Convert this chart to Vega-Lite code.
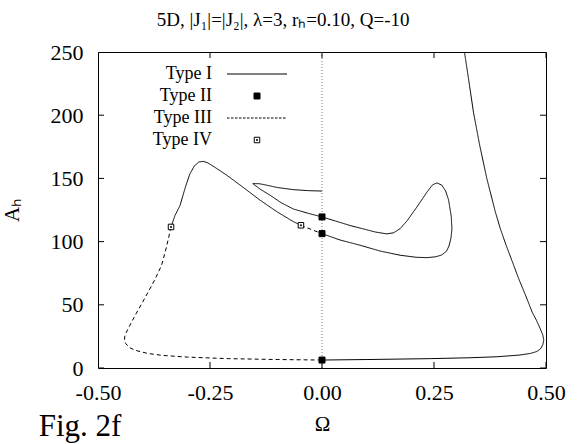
{
"$schema": "https://vega.github.io/schema/vega-lite/v6.json",
"width": 448, "height": 316,
"autosize": {"type": "none"},
"padding": {"left": 98, "top": 52, "right": 31, "bottom": 76},
"background": "white",
"title": {"text": "5D, |J₁|=|J₂|, λ=3, rₕ=0.10, Q=-10", "font": "Liberation Serif", "fontSize": 19, "fontWeight": "normal", "color": "black", "anchor": "middle", "frame": "bounds", "offset": 11},
"config": {
  "view": {"stroke": "black", "strokeWidth": 1},
  "axis": {"labelFont": "Liberation Serif", "titleFont": "Liberation Serif", "labelColor": "black", "titleColor": "black", "domain": false, "grid": false, "ticks": false, "labelFlush": false, "labelOverlap": false, "titleFontWeight": "normal"},
  "legend": {"orient": "none", "legendX": 150, "legendY": 13, "labelFont": "Liberation Serif", "labelFontSize": 18, "labelColor": "black", "labelAlign": "right", "labelOffset": -54, "rowPadding": 4, "symbolStrokeColor": "black", "symbolStrokeWidth": 1, "symbolSize": 100, "padding": 0}
},
"datasets": {
  "curves": [
    {"seg":"A","type":"Type I","i":0,"omega":-0.337,"ah":111.6},
    {"seg":"A","type":"Type I","i":1,"omega":-0.328,"ah":120.8},
    {"seg":"A","type":"Type I","i":2,"omega":-0.317,"ah":128.5},
    {"seg":"A","type":"Type I","i":3,"omega":-0.305,"ah":143},
    {"seg":"A","type":"Type I","i":4,"omega":-0.295,"ah":153.5},
    {"seg":"A","type":"Type I","i":5,"omega":-0.285,"ah":159.8},
    {"seg":"A","type":"Type I","i":6,"omega":-0.275,"ah":163},
    {"seg":"A","type":"Type I","i":7,"omega":-0.265,"ah":163.5},
    {"seg":"A","type":"Type I","i":8,"omega":-0.255,"ah":162.3},
    {"seg":"A","type":"Type I","i":9,"omega":-0.24,"ah":159},
    {"seg":"A","type":"Type I","i":10,"omega":-0.2125,"ah":152.5},
    {"seg":"A","type":"Type I","i":11,"omega":-0.18,"ah":144},
    {"seg":"A","type":"Type I","i":12,"omega":-0.138,"ah":132.7},
    {"seg":"A","type":"Type I","i":13,"omega":-0.1,"ah":123.5},
    {"seg":"A","type":"Type I","i":14,"omega":-0.064,"ah":115.8},
    {"seg":"A","type":"Type I","i":15,"omega":-0.047,"ah":112.9},
    {"seg":"B","type":"Type III","i":0,"omega":-0.047,"ah":112.9},
    {"seg":"B","type":"Type III","i":1,"omega":-0.024,"ah":109.6},
    {"seg":"B","type":"Type III","i":2,"omega":0,"ah":106.3},
    {"seg":"C","type":"Type I","i":0,"omega":0,"ah":106.3},
    {"seg":"C","type":"Type I","i":1,"omega":0.04,"ah":101.3},
    {"seg":"C","type":"Type I","i":2,"omega":0.0852,"ah":97.1},
    {"seg":"C","type":"Type I","i":3,"omega":0.13,"ah":92.5},
    {"seg":"C","type":"Type I","i":4,"omega":0.1746,"ah":89.2},
    {"seg":"C","type":"Type I","i":5,"omega":0.21,"ah":87.6},
    {"seg":"C","type":"Type I","i":6,"omega":0.2342,"ah":87.3},
    {"seg":"C","type":"Type I","i":7,"omega":0.2542,"ah":88},
    {"seg":"C","type":"Type I","i":8,"omega":0.2677,"ah":89.5},
    {"seg":"C","type":"Type I","i":9,"omega":0.278,"ah":92.5},
    {"seg":"C","type":"Type I","i":10,"omega":0.2835,"ah":96.5},
    {"seg":"C","type":"Type I","i":11,"omega":0.288,"ah":103},
    {"seg":"C","type":"Type I","i":12,"omega":0.29,"ah":110.3},
    {"seg":"C","type":"Type I","i":13,"omega":0.2885,"ah":120},
    {"seg":"C","type":"Type I","i":14,"omega":0.2825,"ah":133},
    {"seg":"C","type":"Type I","i":15,"omega":0.276,"ah":140},
    {"seg":"C","type":"Type I","i":16,"omega":0.267,"ah":144.8},
    {"seg":"C","type":"Type I","i":17,"omega":0.2565,"ah":146.4},
    {"seg":"C","type":"Type I","i":18,"omega":0.247,"ah":145},
    {"seg":"C","type":"Type I","i":19,"omega":0.235,"ah":139.5},
    {"seg":"C","type":"Type I","i":20,"omega":0.2119,"ah":127.4},
    {"seg":"C","type":"Type I","i":21,"omega":0.19,"ah":116.5},
    {"seg":"C","type":"Type I","i":22,"omega":0.1746,"ah":110.3},
    {"seg":"C","type":"Type I","i":23,"omega":0.16,"ah":107},
    {"seg":"C","type":"Type I","i":24,"omega":0.145,"ah":106.1},
    {"seg":"C","type":"Type I","i":25,"omega":0.12,"ah":107.5},
    {"seg":"C","type":"Type I","i":26,"omega":0.0629,"ah":112.7},
    {"seg":"C","type":"Type I","i":27,"omega":0.03,"ah":116.3},
    {"seg":"C","type":"Type I","i":28,"omega":0,"ah":119.5},
    {"seg":"C","type":"Type I","i":29,"omega":-0.03,"ah":122.3},
    {"seg":"C","type":"Type I","i":30,"omega":-0.064,"ah":125.8},
    {"seg":"C","type":"Type I","i":31,"omega":-0.09,"ah":130.5},
    {"seg":"C","type":"Type I","i":32,"omega":-0.115,"ah":136.5},
    {"seg":"C","type":"Type I","i":33,"omega":-0.138,"ah":141.5},
    {"seg":"C","type":"Type I","i":34,"omega":-0.1545,"ah":145.9},
    {"seg":"C","type":"Type I","i":35,"omega":-0.14,"ah":145.8},
    {"seg":"C","type":"Type I","i":36,"omega":-0.123,"ah":144.6},
    {"seg":"C","type":"Type I","i":37,"omega":-0.1,"ah":142.8},
    {"seg":"C","type":"Type I","i":38,"omega":-0.064,"ah":141.1},
    {"seg":"C","type":"Type I","i":39,"omega":-0.03,"ah":140.3},
    {"seg":"C","type":"Type I","i":40,"omega":0,"ah":140},
    {"seg":"D","type":"Type III","i":0,"omega":-0.337,"ah":111.6},
    {"seg":"D","type":"Type III","i":1,"omega":-0.347,"ah":96},
    {"seg":"D","type":"Type III","i":2,"omega":-0.358,"ah":81.3},
    {"seg":"D","type":"Type III","i":3,"omega":-0.373,"ah":70},
    {"seg":"D","type":"Type III","i":4,"omega":-0.388,"ah":60.1},
    {"seg":"D","type":"Type III","i":5,"omega":-0.403,"ah":50.5},
    {"seg":"D","type":"Type III","i":6,"omega":-0.417,"ah":41.7},
    {"seg":"D","type":"Type III","i":7,"omega":-0.43,"ah":33},
    {"seg":"D","type":"Type III","i":8,"omega":-0.44,"ah":25.9},
    {"seg":"D","type":"Type III","i":9,"omega":-0.441,"ah":21.8},
    {"seg":"D","type":"Type III","i":10,"omega":-0.438,"ah":19.3},
    {"seg":"D","type":"Type III","i":11,"omega":-0.43,"ah":16.2},
    {"seg":"D","type":"Type III","i":12,"omega":-0.417,"ah":14},
    {"seg":"D","type":"Type III","i":13,"omega":-0.39,"ah":11.6},
    {"seg":"D","type":"Type III","i":14,"omega":-0.358,"ah":10},
    {"seg":"D","type":"Type III","i":15,"omega":-0.3,"ah":8.6},
    {"seg":"D","type":"Type III","i":16,"omega":-0.209,"ah":7.4},
    {"seg":"D","type":"Type III","i":17,"omega":-0.1,"ah":6.7},
    {"seg":"D","type":"Type III","i":18,"omega":0,"ah":6.3},
    {"seg":"E","type":"Type I","i":0,"omega":0,"ah":6.3},
    {"seg":"E","type":"Type I","i":1,"omega":0.1,"ah":6.7},
    {"seg":"E","type":"Type I","i":2,"omega":0.2416,"ah":7.4},
    {"seg":"E","type":"Type I","i":3,"omega":0.33,"ah":8.1},
    {"seg":"E","type":"Type I","i":4,"omega":0.391,"ah":8.9},
    {"seg":"E","type":"Type I","i":5,"omega":0.44,"ah":10.2},
    {"seg":"E","type":"Type I","i":6,"omega":0.465,"ah":11.5},
    {"seg":"E","type":"Type I","i":7,"omega":0.48,"ah":13.1},
    {"seg":"E","type":"Type I","i":8,"omega":0.488,"ah":15.3},
    {"seg":"E","type":"Type I","i":9,"omega":0.493,"ah":18.5},
    {"seg":"E","type":"Type I","i":10,"omega":0.495,"ah":21.9},
    {"seg":"E","type":"Type I","i":11,"omega":0.493,"ah":26},
    {"seg":"E","type":"Type I","i":12,"omega":0.487,"ah":31.2},
    {"seg":"E","type":"Type I","i":13,"omega":0.479,"ah":37.5},
    {"seg":"E","type":"Type I","i":14,"omega":0.469,"ah":44.3},
    {"seg":"E","type":"Type I","i":15,"omega":0.455,"ah":57},
    {"seg":"E","type":"Type I","i":16,"omega":0.439,"ah":70.7},
    {"seg":"E","type":"Type I","i":17,"omega":0.425,"ah":84},
    {"seg":"E","type":"Type I","i":18,"omega":0.411,"ah":97.1},
    {"seg":"E","type":"Type I","i":19,"omega":0.398,"ah":110.3},
    {"seg":"E","type":"Type I","i":20,"omega":0.387,"ah":123.4},
    {"seg":"E","type":"Type I","i":21,"omega":0.368,"ah":149.8},
    {"seg":"E","type":"Type I","i":22,"omega":0.352,"ah":176.2},
    {"seg":"E","type":"Type I","i":23,"omega":0.338,"ah":202.5},
    {"seg":"E","type":"Type I","i":24,"omega":0.327,"ah":229},
    {"seg":"E","type":"Type I","i":25,"omega":0.318,"ah":250}
  ],
  "markers": [
    {"type":"Type II","omega":0,"ah":119.5},
    {"type":"Type II","omega":0,"ah":106.3},
    {"type":"Type II","omega":0,"ah":6.3},
    {"type":"Type IV","omega":-0.337,"ah":111.6},
    {"type":"Type IV","omega":-0.047,"ah":112.9}
  ],
  "xticks": [
    {"omega":-0.5,"ah":0},{"omega":-0.25,"ah":0},{"omega":0,"ah":0},{"omega":0.25,"ah":0},{"omega":0.5,"ah":0},
    {"omega":-0.5,"ah":250},{"omega":-0.25,"ah":250},{"omega":0,"ah":250},{"omega":0.25,"ah":250},{"omega":0.5,"ah":250}
  ],
  "yticks": [
    {"omega":-0.5,"ah":0},{"omega":-0.5,"ah":50},{"omega":-0.5,"ah":100},{"omega":-0.5,"ah":150},{"omega":-0.5,"ah":200},{"omega":-0.5,"ah":250},
    {"omega":0.5,"ah":0},{"omega":0.5,"ah":50},{"omega":0.5,"ah":100},{"omega":0.5,"ah":150},{"omega":0.5,"ah":200},{"omega":0.5,"ah":250}
  ],
  "notes": [
    {"label": "Fig. 2f"}
  ]
},
"resolve": {"axis": {"x": "independent", "y": "independent"}},
"layer": [
  {
    "data": {"name": "curves"},
    "mark": {"type": "line", "color": "black", "strokeWidth": 1, "clip": true},
    "encoding": {
      "x": {"field": "omega", "type": "quantitative", "scale": {"domain": [-0.5, 0.5], "nice": false, "zero": false},
            "axis": {"orient": "bottom", "values": [-0.5, -0.25, 0, 0.25, 0.5], "labelExpr": "replace(format(datum.value, '.2f'), '\u2212', '-')", "labelFont": "Liberation Serif", "labelFontSize": 22, "labelColor": "black", "labelPadding": 14, "labelFlush": false, "labelOverlap": false, "domain": false, "grid": false, "ticks": false, "title": "Ω", "titleFont": "Liberation Serif", "titleFontWeight": "normal", "titleColor": "black", "titleFontSize": 21, "titlePadding": 10}},
      "y": {"field": "ah", "type": "quantitative", "scale": {"domain": [0, 250], "nice": false, "zero": false},
            "axis": {"orient": "left", "values": [0, 50, 100, 150, 200, 250], "labelFont": "Liberation Serif", "labelFontSize": 22, "labelColor": "black", "labelPadding": 15, "labelFlush": false, "labelOverlap": false, "domain": false, "grid": false, "ticks": false, "title": "Aₕ", "titleFont": "Liberation Serif", "titleFontWeight": "normal", "titleColor": "black", "titleFontSize": 21, "titlePadding": 28}},
      "detail": {"field": "seg"},
      "order": {"field": "i", "type": "quantitative"},
      "strokeDash": {"field": "type", "type": "nominal", "scale": {"domain": ["Type I", "Type III"], "range": [[1, 0], [4, 3]]}, "legend": null}
    }
  },
  {
    "data": {"name": "notes"},
    "mark": {"type": "rule", "color": "#777777", "strokeWidth": 1, "strokeDash": [1, 2]},
    "encoding": {"x": {"datum": 0, "type": "quantitative", "scale": {"domain": [-0.5, 0.5], "nice": false, "zero": false}, "axis": null}}
  },
  {
    "data": {"name": "xticks"},
    "mark": {"type": "tick", "orient": "vertical", "size": 12, "thickness": 1, "color": "black", "opacity": 1, "clip": true},
    "encoding": {
      "x": {"field": "omega", "type": "quantitative", "scale": {"domain": [-0.5, 0.5], "nice": false, "zero": false}, "axis": null},
      "y": {"field": "ah", "type": "quantitative", "scale": {"domain": [0, 250], "nice": false, "zero": false}, "axis": null}
    }
  },
  {
    "data": {"name": "yticks"},
    "mark": {"type": "tick", "orient": "horizontal", "size": 12, "thickness": 1, "color": "black", "opacity": 1, "clip": true},
    "encoding": {
      "x": {"field": "omega", "type": "quantitative", "scale": {"domain": [-0.5, 0.5], "nice": false, "zero": false}, "axis": null},
      "y": {"field": "ah", "type": "quantitative", "scale": {"domain": [0, 250], "nice": false, "zero": false}, "axis": null}
    }
  },
  {
    "data": {"name": "markers"},
    "mark": {"type": "point", "filled": true, "strokeWidth": 1, "size": 100, "opacity": 1},
    "encoding": {
      "x": {"field": "omega", "type": "quantitative", "scale": {"domain": [-0.5, 0.5], "nice": false, "zero": false}, "axis": null},
      "y": {"field": "ah", "type": "quantitative", "scale": {"domain": [0, 250], "nice": false, "zero": false}, "axis": null},
      "shape": {"field": "type", "type": "nominal", "title": null,
                "scale": {"domain": ["Type I", "Type II", "Type III", "Type IV"],
                          "range": ["M-6,0H6", "M-0.6,-0.6H0.6V0.6H-0.6Z", "M-6,0h0.5M-5.2,0h0.5M-4.4,0h0.5M-3.6,0h0.5M-2.8,0h0.5M-2,0h0.5M-1.2,0h0.5M-0.4,0h0.5M0.4,0h0.5M1.2,0h0.5M2,0h0.5M2.8,0h0.5M3.6,0h0.5M4.4,0h0.5M5.2,0h0.5", "M-0.55,-0.55H0.55V0.55H-0.55ZM-0.1,-0.1H0.1V0.1H-0.1Z"]}},
      "fill": {"field": "type", "type": "nominal", "title": null,
               "scale": {"domain": ["Type I", "Type II", "Type III", "Type IV"], "range": ["transparent", "black", "transparent", "white"]}},
      "stroke": {"field": "type", "type": "nominal", "title": null,
               "scale": {"domain": ["Type I", "Type II", "Type III", "Type IV"], "range": ["black", "black", "black", "black"]}}
    }
  },
  {
    "data": {"name": "notes"},
    "mark": {"type": "text", "font": "Liberation Serif", "fontSize": 31, "align": "center", "baseline": "alphabetic", "color": "black"},
    "encoding": {
      "text": {"field": "label"},
      "x": {"datum": -0.54, "type": "quantitative", "scale": {"domain": [-0.5, 0.5], "nice": false, "zero": false}, "axis": null},
      "y": {"datum": -54, "type": "quantitative", "scale": {"domain": [0, 250], "nice": false, "zero": false}, "axis": null}
    }
  }
]
}
